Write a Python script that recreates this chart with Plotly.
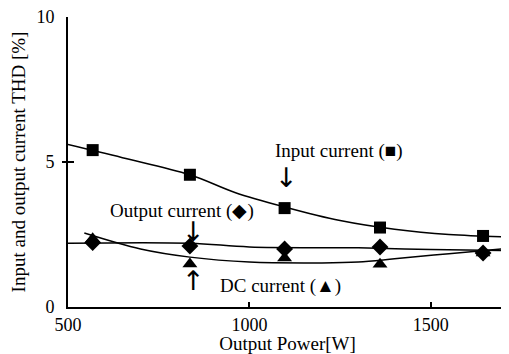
import plotly.graph_objects as go

power = [568, 836, 1097, 1360, 1644]
input_thd = [5.41, 4.56, 3.41, 2.74, 2.45]
output_thd = [2.22, 2.10, 2.00, 2.07, 1.86]
dc_thd = [2.35, 1.48, 1.69, 1.47, 1.86]

input_fit_x = [500, 650, 836, 960, 1097, 1250, 1400, 1550, 1710]
input_fit_y = [5.6, 5.15, 4.56, 3.95, 3.45, 2.98, 2.68, 2.5, 2.42]
output_fit_x = [500, 836, 1000, 1300, 1500, 1710]
output_fit_y = [2.2, 2.2, 2.07, 2.04, 1.98, 1.95]
dc_fit_x = [545, 700, 836, 1000, 1200, 1300, 1400, 1550, 1710]
dc_fit_y = [2.55, 2.0, 1.72, 1.55, 1.52, 1.55, 1.66, 1.84, 2.02]

FONT = "Liberation Serif, Times New Roman, serif"
ARROWFONT = "DejaVu Sans"

fig = go.Figure()
line_style = dict(color="black", width=1.5, shape="spline", smoothing=1.0)
for fx, fy in [(input_fit_x, input_fit_y), (output_fit_x, output_fit_y), (dc_fit_x, dc_fit_y)]:
    fig.add_trace(go.Scatter(x=fx, y=fy, mode="lines", line=line_style, showlegend=False, hoverinfo="skip"))

fig.add_trace(go.Scatter(x=power, y=input_thd, mode="markers",
                         marker=dict(symbol="square", size=12, color="black"), showlegend=False))
fig.add_trace(go.Scatter(x=power, y=output_thd, mode="markers",
                         marker=dict(symbol="diamond", size=13, color="black"), showlegend=False))
fig.add_trace(go.Scatter(x=power, y=dc_thd, mode="markers",
                         marker=dict(symbol="triangle-up", size=13, color="black"), showlegend=False))

texts = [
    (1065, 5.38, "Input current (■)"),
    (610, 3.32, "Output current (◆)"),
    (913, 0.72, "DC current (▲)"),
]
for x, y, t in texts:
    fig.add_annotation(x=x, y=y, text=t, showarrow=False, xanchor="left", yanchor="middle",
                       font=dict(family=FONT, size=19, color="black"))

arrows = [(1101, 4.48, "↓"), (845, 2.6, "↓"), (845, 0.9, "↑")]
for x, y, t in arrows:
    fig.add_annotation(x=x, y=y, text=t, showarrow=False, xanchor="center", yanchor="middle",
                       font=dict(family=ARROWFONT, size=27, color="black"))

# page body has an 8px margin, so the figure is sized to fit inside the window
fig.update_layout(
    width=501, height=346,
    margin=dict(l=60, r=2, t=9, b=47),
    paper_bgcolor="white", plot_bgcolor="white",
    font=dict(family=FONT, size=18, color="black"),
    xaxis=dict(range=[500, 1710], tickvals=[500, 1000, 1500], showgrid=False, zeroline=False,
               showline=True, linecolor="black", linewidth=2, ticks="inside", ticklen=5,
               tickwidth=1.5, tickcolor="black", automargin=False, ticklabeloverflow="allow",
               title=dict(text="Output Power[W]", standoff=0, font=dict(size=19))),
    yaxis=dict(range=[0, 10], tickvals=[0, 5, 10], showgrid=False, zeroline=False,
               showline=True, linecolor="black", linewidth=2, ticks="inside", ticklen=6,
               tickwidth=1.5, tickcolor="black", automargin=False, ticklabeloverflow="allow",
               ticklabelstandoff=8,
               title=dict(text="Input and output current THD [%]", standoff=14, font=dict(size=19))),
    yaxis2=dict(range=[0, 10], overlaying="y", side="left", tickvals=[5], ticks="outside",
                ticklen=5, tickwidth=1.5, tickcolor="black", showticklabels=False,
                showgrid=False, zeroline=False, showline=False, automargin=False),
)
fig.add_trace(go.Scatter(x=[None], y=[None], yaxis="y2", showlegend=False, hoverinfo="skip"))

fig.write_html("out.html")
